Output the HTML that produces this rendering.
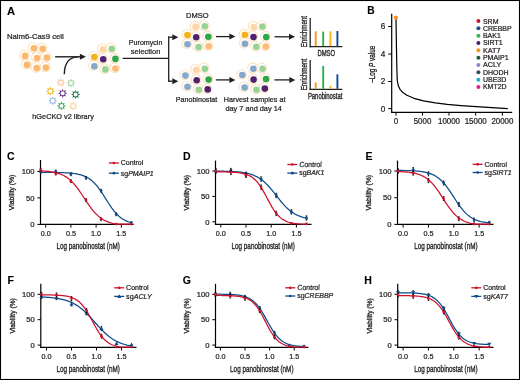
<!DOCTYPE html>
<html><head><meta charset="utf-8"><style>
html,body{margin:0;padding:0;background:#fff;width:520px;height:380px;overflow:hidden;}
svg{display:block;will-change:transform;}
text{font-family:"Liberation Sans", sans-serif;fill:#231f20;stroke:#231f20;stroke-width:0.24px;}
text.c{stroke-width:0.34px;}
text.b{fill:#000;stroke:#000;stroke-width:0.1px;}
</style></head><body>
<svg width="520" height="380" viewBox="0 0 520 380">
<rect x="0.5" y="0.5" width="519" height="379" fill="#fff" stroke="#000" stroke-width="1.1"/>
<text x="6.90" y="14.70" font-size="11.20" font-weight="bold" fill="#000" class="b" >A</text>
<text x="6.90" y="39.30" font-size="8.00" textLength="56.90" lengthAdjust="spacingAndGlyphs" >Nalm6-Cas9 cell</text>
<circle cx="33.20" cy="47.60" r="4.85" fill="#fff" stroke="#fde2c3" stroke-width="1.1"/>
<circle cx="41.90" cy="48.10" r="4.85" fill="#fff" stroke="#fde2c3" stroke-width="1.1"/>
<circle cx="24.40" cy="55.20" r="4.85" fill="#fff" stroke="#fde2c3" stroke-width="1.1"/>
<circle cx="36.40" cy="57.30" r="4.85" fill="#fff" stroke="#fde2c3" stroke-width="1.1"/>
<circle cx="46.10" cy="56.80" r="4.85" fill="#fff" stroke="#fde2c3" stroke-width="1.1"/>
<circle cx="26.30" cy="64.20" r="4.85" fill="#fff" stroke="#fde2c3" stroke-width="1.1"/>
<circle cx="36.00" cy="67.40" r="4.85" fill="#fff" stroke="#fde2c3" stroke-width="1.1"/>
<circle cx="45.20" cy="66.90" r="4.85" fill="#fff" stroke="#fde2c3" stroke-width="1.1"/>
<circle cx="33.90" cy="48.30" r="3.30" fill="#fab96f"/>
<circle cx="42.60" cy="48.80" r="3.30" fill="#fab96f"/>
<circle cx="25.10" cy="55.90" r="3.30" fill="#fab96f"/>
<circle cx="37.10" cy="58.00" r="3.30" fill="#fab96f"/>
<circle cx="46.80" cy="57.50" r="3.30" fill="#fab96f"/>
<circle cx="27.00" cy="64.90" r="3.30" fill="#fab96f"/>
<circle cx="36.70" cy="68.10" r="3.30" fill="#fab96f"/>
<circle cx="45.90" cy="67.60" r="3.30" fill="#fab96f"/>
<line x1="55.10" y1="56.80" x2="80.40" y2="56.80" stroke="#231f20" stroke-width="1.4" />
<polygon points="79.90,53.80 85.90,56.80 79.90,59.80" fill="#231f20"/>
<path d="M64.3,74.3 Q64.6,57.2 78,56.9" fill="none" stroke="#231f20" stroke-width="1.4"/>
<polygon points="60.90,78.00 61.89,80.20 64.15,79.35 63.30,81.61 65.50,82.60 63.30,83.59 64.15,85.85 61.89,85.00 60.90,87.20 59.91,85.00 57.65,85.85 58.50,83.59 56.30,82.60 58.50,81.61 57.65,79.35 59.91,80.20" fill="#fcc8a2"/>
<circle cx="60.90" cy="82.60" r="1.95" fill="#fff"/>
<polygon points="71.00,78.50 71.99,80.70 74.25,79.85 73.40,82.11 75.60,83.10 73.40,84.09 74.25,86.35 71.99,85.50 71.00,87.70 70.01,85.50 67.75,86.35 68.60,84.09 66.40,83.10 68.60,82.11 67.75,79.85 70.01,80.70" fill="#a5d7a0"/>
<circle cx="71.00" cy="83.10" r="1.95" fill="#fff"/>
<polygon points="50.40,86.60 51.39,88.80 53.65,87.95 52.80,90.21 55.00,91.20 52.80,92.19 53.65,94.45 51.39,93.60 50.40,95.80 49.41,93.60 47.15,94.45 48.00,92.19 45.80,91.20 48.00,90.21 47.15,87.95 49.41,88.80" fill="#f5b92e"/>
<circle cx="50.40" cy="91.20" r="1.95" fill="#fff"/>
<polygon points="62.70,88.70 63.69,90.90 65.95,90.05 65.10,92.31 67.30,93.30 65.10,94.29 65.95,96.55 63.69,95.70 62.70,97.90 61.71,95.70 59.45,96.55 60.30,94.29 58.10,93.30 60.30,92.31 59.45,90.05 61.71,90.90" fill="#67398a"/>
<circle cx="62.70" cy="93.30" r="1.95" fill="#fff"/>
<polygon points="75.60,89.90 76.59,92.10 78.85,91.25 78.00,93.51 80.20,94.50 78.00,95.49 78.85,97.75 76.59,96.90 75.60,99.10 74.61,96.90 72.35,97.75 73.20,95.49 71.00,94.50 73.20,93.51 72.35,91.25 74.61,92.10" fill="#22735a"/>
<circle cx="75.60" cy="94.50" r="1.95" fill="#fff"/>
<polygon points="52.80,96.20 53.79,98.40 56.05,97.55 55.20,99.81 57.40,100.80 55.20,101.79 56.05,104.05 53.79,103.20 52.80,105.40 51.81,103.20 49.55,104.05 50.40,101.79 48.20,100.80 50.40,99.81 49.55,97.55 51.81,98.40" fill="#a0badb"/>
<circle cx="52.80" cy="100.80" r="1.95" fill="#fff"/>
<polygon points="61.50,101.30 62.49,103.50 64.75,102.65 63.90,104.91 66.10,105.90 63.90,106.89 64.75,109.15 62.49,108.30 61.50,110.50 60.51,108.30 58.25,109.15 59.10,106.89 56.90,105.90 59.10,104.91 58.25,102.65 60.51,103.50" fill="#44ab5c"/>
<circle cx="61.50" cy="105.90" r="1.95" fill="#fff"/>
<polygon points="73.20,101.50 74.19,103.70 76.45,102.85 75.60,105.11 77.80,106.10 75.60,107.09 76.45,109.35 74.19,108.50 73.20,110.70 72.21,108.50 69.95,109.35 70.80,107.09 68.60,106.10 70.80,105.11 69.95,102.85 72.21,103.70" fill="#fbd993"/>
<circle cx="73.20" cy="106.10" r="1.95" fill="#fff"/>
<text x="32.30" y="119.20" font-size="7.90" textLength="61.50" lengthAdjust="spacingAndGlyphs" >hGeCKO v2 library</text>
<circle cx="102.30" cy="48.50" r="4.85" fill="#fff" stroke="#fde2c3" stroke-width="1.1"/>
<circle cx="111.00" cy="48.00" r="4.85" fill="#fff" stroke="#fde2c3" stroke-width="1.1"/>
<circle cx="93.60" cy="56.30" r="4.85" fill="#fff" stroke="#fde2c3" stroke-width="1.1"/>
<circle cx="102.50" cy="58.60" r="4.85" fill="#fff" stroke="#fde2c3" stroke-width="1.1"/>
<circle cx="114.70" cy="58.20" r="4.85" fill="#fff" stroke="#fde2c3" stroke-width="1.1"/>
<circle cx="93.60" cy="65.50" r="4.85" fill="#fff" stroke="#fde2c3" stroke-width="1.1"/>
<circle cx="104.60" cy="68.70" r="4.85" fill="#fff" stroke="#fde2c3" stroke-width="1.1"/>
<circle cx="114.70" cy="67.80" r="4.85" fill="#fff" stroke="#fde2c3" stroke-width="1.1"/>
<circle cx="103.00" cy="49.20" r="3.30" fill="#fdd6a6"/>
<circle cx="111.70" cy="48.70" r="3.30" fill="#97d493"/>
<circle cx="94.30" cy="57.00" r="3.30" fill="#f5b21a"/>
<circle cx="103.20" cy="59.30" r="3.30" fill="#53226f"/>
<circle cx="115.40" cy="58.90" r="3.30" fill="#2fa64a"/>
<circle cx="94.30" cy="66.20" r="3.30" fill="#84a8cb"/>
<circle cx="105.30" cy="69.40" r="3.30" fill="#97d493"/>
<circle cx="115.40" cy="68.50" r="3.30" fill="#fdbb78"/>
<line x1="122.60" y1="58.40" x2="168.70" y2="58.40" stroke="#231f20" stroke-width="1.3" />
<line x1="168.70" y1="36.60" x2="168.70" y2="81.80" stroke="#231f20" stroke-width="1.3" />
<line x1="168.05" y1="37.20" x2="172.80" y2="37.20" stroke="#231f20" stroke-width="1.3" />
<polygon points="172.30,34.20 178.30,37.20 172.30,40.20" fill="#231f20"/>
<line x1="168.05" y1="81.20" x2="172.80" y2="81.20" stroke="#231f20" stroke-width="1.3" />
<polygon points="172.30,78.20 178.30,81.20 172.30,84.20" fill="#231f20"/>
<text x="145.60" y="45.40" font-size="7.70" text-anchor="middle" textLength="33.50" lengthAdjust="spacingAndGlyphs" >Puromycin</text>
<text x="145.60" y="54.40" font-size="7.70" text-anchor="middle" textLength="29.50" lengthAdjust="spacingAndGlyphs" >selection</text>
<text x="186.00" y="18.30" font-size="8.00" textLength="22.50" lengthAdjust="spacingAndGlyphs" >DMSO</text>
<circle cx="194.90" cy="26.20" r="4.85" fill="#fff" stroke="#fde2c3" stroke-width="1.1"/>
<circle cx="204.10" cy="25.60" r="4.85" fill="#fff" stroke="#fde2c3" stroke-width="1.1"/>
<circle cx="186.80" cy="34.30" r="4.85" fill="#fff" stroke="#fde2c3" stroke-width="1.1"/>
<circle cx="195.50" cy="36.60" r="4.85" fill="#fff" stroke="#fde2c3" stroke-width="1.1"/>
<circle cx="207.60" cy="36.00" r="4.85" fill="#fff" stroke="#fde2c3" stroke-width="1.1"/>
<circle cx="186.80" cy="43.50" r="4.85" fill="#fff" stroke="#fde2c3" stroke-width="1.1"/>
<circle cx="197.80" cy="46.40" r="4.85" fill="#fff" stroke="#fde2c3" stroke-width="1.1"/>
<circle cx="207.90" cy="45.60" r="4.85" fill="#fff" stroke="#fde2c3" stroke-width="1.1"/>
<circle cx="195.60" cy="26.90" r="3.30" fill="#fdd6a6"/>
<circle cx="204.80" cy="26.30" r="3.30" fill="#97d493"/>
<circle cx="187.50" cy="35.00" r="3.30" fill="#f5b21a"/>
<circle cx="196.20" cy="37.30" r="3.30" fill="#53226f"/>
<circle cx="208.30" cy="36.70" r="3.30" fill="#2fa64a"/>
<circle cx="187.50" cy="44.20" r="3.30" fill="#84a8cb"/>
<circle cx="198.50" cy="47.10" r="3.30" fill="#97d493"/>
<circle cx="208.60" cy="46.30" r="3.30" fill="#fdbb78"/>
<line x1="216.00" y1="36.60" x2="229.90" y2="36.60" stroke="#231f20" stroke-width="1.3" />
<polygon points="229.40,33.60 235.40,36.60 229.40,39.60" fill="#231f20"/>
<circle cx="253.10" cy="26.30" r="4.85" fill="#fff" stroke="#fde2c3" stroke-width="1.1"/>
<circle cx="261.60" cy="25.80" r="4.85" fill="#fff" stroke="#fde2c3" stroke-width="1.1"/>
<circle cx="244.20" cy="34.00" r="4.85" fill="#fff" stroke="#fde2c3" stroke-width="1.1"/>
<circle cx="252.80" cy="36.30" r="4.85" fill="#fff" stroke="#fde2c3" stroke-width="1.1"/>
<circle cx="265.50" cy="36.30" r="4.85" fill="#fff" stroke="#fde2c3" stroke-width="1.1"/>
<circle cx="244.20" cy="43.10" r="4.85" fill="#fff" stroke="#fde2c3" stroke-width="1.1"/>
<circle cx="255.50" cy="46.10" r="4.85" fill="#fff" stroke="#fde2c3" stroke-width="1.1"/>
<circle cx="265.10" cy="45.80" r="4.85" fill="#fff" stroke="#fde2c3" stroke-width="1.1"/>
<circle cx="253.80" cy="27.00" r="3.30" fill="#fdd6a6"/>
<circle cx="262.30" cy="26.50" r="3.30" fill="#97d493"/>
<circle cx="244.90" cy="34.70" r="3.30" fill="#f5b21a"/>
<circle cx="253.50" cy="37.00" r="3.30" fill="#53226f"/>
<circle cx="266.20" cy="37.00" r="3.30" fill="#2fa64a"/>
<circle cx="244.90" cy="43.80" r="3.30" fill="#84a8cb"/>
<circle cx="256.20" cy="46.80" r="3.30" fill="#97d493"/>
<circle cx="265.80" cy="46.50" r="3.30" fill="#fdbb78"/>
<line x1="274.50" y1="36.80" x2="289.50" y2="36.80" stroke="#231f20" stroke-width="1.3" />
<polygon points="289.00,33.80 295.00,36.80 289.00,39.80" fill="#231f20"/>
<circle cx="195.50" cy="69.10" r="4.85" fill="#fff" stroke="#fde2c3" stroke-width="1.1"/>
<circle cx="204.10" cy="68.00" r="4.85" fill="#fff" stroke="#fde2c3" stroke-width="1.1"/>
<circle cx="184.70" cy="74.90" r="4.85" fill="#fff" stroke="#fde2c3" stroke-width="1.1"/>
<circle cx="196.00" cy="79.50" r="4.85" fill="#fff" stroke="#fde2c3" stroke-width="1.1"/>
<circle cx="207.90" cy="78.90" r="4.85" fill="#fff" stroke="#fde2c3" stroke-width="1.1"/>
<circle cx="186.80" cy="86.10" r="4.85" fill="#fff" stroke="#fde2c3" stroke-width="1.1"/>
<circle cx="198.00" cy="89.10" r="4.85" fill="#fff" stroke="#fde2c3" stroke-width="1.1"/>
<circle cx="207.00" cy="88.70" r="4.85" fill="#fff" stroke="#fde2c3" stroke-width="1.1"/>
<circle cx="196.20" cy="69.80" r="3.30" fill="#fdd6a6"/>
<circle cx="204.80" cy="68.70" r="3.30" fill="#97d493"/>
<circle cx="185.40" cy="75.60" r="3.30" fill="#84a8cb"/>
<circle cx="196.70" cy="80.20" r="3.30" fill="#53226f"/>
<circle cx="208.60" cy="79.60" r="3.30" fill="#2fa64a"/>
<circle cx="187.50" cy="86.80" r="3.30" fill="#84a8cb"/>
<circle cx="198.70" cy="89.80" r="3.30" fill="#97d493"/>
<circle cx="207.70" cy="89.40" r="3.30" fill="#53226f"/>
<line x1="215.80" y1="79.90" x2="229.90" y2="79.90" stroke="#231f20" stroke-width="1.3" />
<polygon points="229.40,76.90 235.40,79.90 229.40,82.90" fill="#231f20"/>
<circle cx="252.60" cy="68.00" r="4.85" fill="#fff" stroke="#fde2c3" stroke-width="1.1"/>
<circle cx="261.80" cy="68.00" r="4.85" fill="#fff" stroke="#fde2c3" stroke-width="1.1"/>
<circle cx="241.60" cy="74.30" r="4.85" fill="#fff" stroke="#fde2c3" stroke-width="1.1"/>
<circle cx="252.90" cy="78.90" r="4.85" fill="#fff" stroke="#fde2c3" stroke-width="1.1"/>
<circle cx="265.30" cy="78.30" r="4.85" fill="#fff" stroke="#fde2c3" stroke-width="1.1"/>
<circle cx="243.90" cy="86.80" r="4.85" fill="#fff" stroke="#fde2c3" stroke-width="1.1"/>
<circle cx="255.70" cy="89.10" r="4.85" fill="#fff" stroke="#fde2c3" stroke-width="1.1"/>
<circle cx="264.10" cy="87.90" r="4.85" fill="#fff" stroke="#fde2c3" stroke-width="1.1"/>
<circle cx="253.30" cy="68.70" r="3.30" fill="#84a8cb"/>
<circle cx="262.50" cy="68.70" r="3.30" fill="#97d493"/>
<circle cx="242.30" cy="75.00" r="3.30" fill="#84a8cb"/>
<circle cx="253.60" cy="79.60" r="3.30" fill="#53226f"/>
<circle cx="266.00" cy="79.00" r="3.30" fill="#2fa64a"/>
<circle cx="244.60" cy="87.50" r="3.30" fill="#84a8cb"/>
<circle cx="256.40" cy="89.80" r="3.30" fill="#97d493"/>
<circle cx="264.80" cy="88.60" r="3.30" fill="#53226f"/>
<line x1="274.40" y1="79.90" x2="289.80" y2="79.90" stroke="#231f20" stroke-width="1.3" />
<polygon points="289.30,76.90 295.30,79.90 289.30,82.90" fill="#231f20"/>
<text x="175.80" y="101.90" font-size="7.60" textLength="41.50" lengthAdjust="spacingAndGlyphs" >Panobinostat</text>
<text x="223.80" y="101.90" font-size="7.60" textLength="61.60" lengthAdjust="spacingAndGlyphs" >Harvest samples at</text>
<text x="225.40" y="110.60" font-size="7.60" textLength="56.50" lengthAdjust="spacingAndGlyphs" >day 7 and day 14</text>
<line x1="310.20" y1="17.90" x2="310.20" y2="47.30" stroke="#222" stroke-width="1.3" />
<line x1="309.60" y1="46.70" x2="342.40" y2="46.70" stroke="#222" stroke-width="1.3" />
<rect x="314.75" y="31.30" width="1.9" height="14.80" fill="#f7941d"/>
<rect x="322.25" y="31.60" width="1.9" height="14.50" fill="#2eb04a"/>
<rect x="329.45" y="31.30" width="1.9" height="14.80" fill="#fdb913"/>
<rect x="336.45" y="31.00" width="1.9" height="15.10" fill="#0f4c94"/>
<text x="317.50" y="56.30" font-size="8.60" textLength="17.60" lengthAdjust="spacingAndGlyphs" class="c" >DMSO</text>
<text x="306.60" y="31.65" font-size="8.80" text-anchor="middle" textLength="31.30" lengthAdjust="spacingAndGlyphs" class="c" transform="rotate(-90 306.60 31.65)">Enrichment</text>
<line x1="310.20" y1="60.10" x2="310.20" y2="90.00" stroke="#222" stroke-width="1.3" />
<line x1="309.60" y1="89.40" x2="342.40" y2="89.40" stroke="#222" stroke-width="1.3" />
<rect x="314.75" y="82.50" width="1.9" height="6.30" fill="#f7941d"/>
<rect x="322.25" y="65.90" width="1.9" height="22.90" fill="#2eb04a"/>
<rect x="329.45" y="85.80" width="1.9" height="3.00" fill="#fdb913"/>
<rect x="336.45" y="74.30" width="1.9" height="14.50" fill="#0f4c94"/>
<text x="307.90" y="98.50" font-size="8.60" textLength="34.50" lengthAdjust="spacingAndGlyphs" class="c" >Panobinostat</text>
<text x="306.60" y="74.55" font-size="8.80" text-anchor="middle" textLength="31.50" lengthAdjust="spacingAndGlyphs" class="c" transform="rotate(-90 306.60 74.55)">Enrichment</text>
<text x="367.20" y="13.90" font-size="10.20" font-weight="bold" fill="#000" class="b" >B</text>
<line x1="391.70" y1="13.80" x2="391.70" y2="112.90" stroke="#000" stroke-width="1.2" />
<line x1="391.10" y1="112.30" x2="512.20" y2="112.30" stroke="#000" stroke-width="1.2" />
<line x1="388.20" y1="108.60" x2="391.70" y2="108.60" stroke="#000" stroke-width="1.0" />
<text x="385.40" y="111.50" font-size="8.20" text-anchor="end" >0</text>
<line x1="388.20" y1="81.50" x2="391.70" y2="81.50" stroke="#000" stroke-width="1.0" />
<text x="385.40" y="84.40" font-size="8.20" text-anchor="end" >2</text>
<line x1="388.20" y1="54.00" x2="391.70" y2="54.00" stroke="#000" stroke-width="1.0" />
<text x="385.40" y="56.90" font-size="8.20" text-anchor="end" >4</text>
<line x1="388.20" y1="26.50" x2="391.70" y2="26.50" stroke="#000" stroke-width="1.0" />
<text x="385.40" y="29.40" font-size="8.20" text-anchor="end" >6</text>
<line x1="396.00" y1="112.30" x2="396.00" y2="115.60" stroke="#000" stroke-width="1.0" />
<text x="396.00" y="123.80" font-size="8.20" text-anchor="middle" textLength="4.40" lengthAdjust="spacingAndGlyphs" >0</text>
<line x1="422.50" y1="112.30" x2="422.50" y2="115.60" stroke="#000" stroke-width="1.0" />
<text x="422.50" y="123.80" font-size="8.20" text-anchor="middle" textLength="17.60" lengthAdjust="spacingAndGlyphs" >5000</text>
<line x1="449.00" y1="112.30" x2="449.00" y2="115.60" stroke="#000" stroke-width="1.0" />
<text x="449.00" y="123.80" font-size="8.20" text-anchor="middle" textLength="22.00" lengthAdjust="spacingAndGlyphs" >10000</text>
<line x1="475.70" y1="112.30" x2="475.70" y2="115.60" stroke="#000" stroke-width="1.0" />
<text x="475.70" y="123.80" font-size="8.20" text-anchor="middle" textLength="22.00" lengthAdjust="spacingAndGlyphs" >15000</text>
<line x1="502.40" y1="112.30" x2="502.40" y2="115.60" stroke="#000" stroke-width="1.0" />
<text x="502.40" y="123.80" font-size="8.20" text-anchor="middle" textLength="22.00" lengthAdjust="spacingAndGlyphs" >20000</text>
<text class="c" x="375.2" y="64.3" font-size="9" text-anchor="middle" textLength="37" lengthAdjust="spacingAndGlyphs" transform="rotate(-90 375.2 64.3)">–Log <tspan font-style="italic">P</tspan> value</text>
<path d="M396.00,18.50 L396.40,45.00 L396.90,70.00 L397.30,80.50 L398.30,85.80 L400.00,89.30 L402.20,91.90 L406.90,95.20 L414.00,98.30 L423.50,100.90 L435.30,102.90 L447.20,104.40 L461.00,105.60 L476.10,106.70 L492.00,107.70 L507.80,108.70" fill="none" stroke="#000" stroke-width="1.2" stroke-linejoin="round"/>
<circle cx="395.9" cy="17.7" r="2.1" fill="#f7941d"/>
<circle cx="478.4" cy="21.00" r="2.0" fill="#c8102e"/>
<text x="482.90" y="23.50" font-size="7.50" textLength="15.58" lengthAdjust="spacingAndGlyphs" >SRM</text>
<circle cx="478.4" cy="28.33" r="2.0" fill="#1b4f8c"/>
<text x="482.90" y="30.83" font-size="7.50" textLength="28.84" lengthAdjust="spacingAndGlyphs" >CREBBP</text>
<circle cx="478.4" cy="35.66" r="2.0" fill="#3bb44a"/>
<text x="482.90" y="38.16" font-size="7.50" textLength="17.93" lengthAdjust="spacingAndGlyphs" >BAK1</text>
<circle cx="478.4" cy="42.99" r="2.0" fill="#4b1c6e"/>
<text x="482.90" y="45.49" font-size="7.50" textLength="19.87" lengthAdjust="spacingAndGlyphs" >SIRT1</text>
<circle cx="478.4" cy="50.32" r="2.0" fill="#f7941d"/>
<text x="482.90" y="52.82" font-size="7.50" textLength="17.54" lengthAdjust="spacingAndGlyphs" >KAT7</text>
<circle cx="478.4" cy="57.65" r="2.0" fill="#1a5e45"/>
<text x="482.90" y="60.15" font-size="7.50" textLength="25.72" lengthAdjust="spacingAndGlyphs" >PMAIP1</text>
<circle cx="478.4" cy="64.98" r="2.0" fill="#8c88d0"/>
<text x="482.90" y="67.48" font-size="7.50" textLength="18.32" lengthAdjust="spacingAndGlyphs" >ACLY</text>
<circle cx="478.4" cy="72.31" r="2.0" fill="#3b4866"/>
<text x="482.90" y="74.81" font-size="7.50" textLength="25.71" lengthAdjust="spacingAndGlyphs" >DHODH</text>
<circle cx="478.4" cy="79.64" r="2.0" fill="#29abe2"/>
<text x="482.90" y="82.14" font-size="7.50" textLength="23.38" lengthAdjust="spacingAndGlyphs" >UBE3D</text>
<circle cx="478.4" cy="86.97" r="2.0" fill="#e6198a"/>
<text x="482.90" y="89.47" font-size="7.50" textLength="23.77" lengthAdjust="spacingAndGlyphs" >KMT2D</text>
<text x="7.00" y="160.20" font-size="10.50" font-weight="bold" fill="#000" class="b" >C</text>
<line x1="40.50" y1="160.00" x2="40.50" y2="225.00" stroke="#000" stroke-width="1.2" />
<line x1="39.90" y1="224.40" x2="133.70" y2="224.40" stroke="#000" stroke-width="1.2" />
<line x1="37.30" y1="171.40" x2="40.50" y2="171.40" stroke="#000" stroke-width="1.0" />
<text x="34.50" y="174.10" font-size="7.80" text-anchor="end" textLength="12.75" lengthAdjust="spacingAndGlyphs" >100</text>
<line x1="37.30" y1="197.90" x2="40.50" y2="197.90" stroke="#000" stroke-width="1.0" />
<text x="34.50" y="200.60" font-size="7.80" text-anchor="end" textLength="8.50" lengthAdjust="spacingAndGlyphs" >50</text>
<line x1="37.30" y1="224.40" x2="40.50" y2="224.40" stroke="#000" stroke-width="1.0" />
<text x="34.50" y="227.10" font-size="7.80" text-anchor="end" textLength="4.25" lengthAdjust="spacingAndGlyphs" >0</text>
<line x1="45.70" y1="224.40" x2="45.70" y2="227.60" stroke="#000" stroke-width="1.0" />
<text x="45.70" y="236.00" font-size="7.80" text-anchor="middle" textLength="10.00" lengthAdjust="spacingAndGlyphs" >0.0</text>
<line x1="70.90" y1="224.40" x2="70.90" y2="227.60" stroke="#000" stroke-width="1.0" />
<text x="70.90" y="236.00" font-size="7.80" text-anchor="middle" textLength="10.00" lengthAdjust="spacingAndGlyphs" >0.5</text>
<line x1="96.10" y1="224.40" x2="96.10" y2="227.60" stroke="#000" stroke-width="1.0" />
<text x="96.10" y="236.00" font-size="7.80" text-anchor="middle" textLength="10.00" lengthAdjust="spacingAndGlyphs" >1.0</text>
<line x1="121.30" y1="224.40" x2="121.30" y2="227.60" stroke="#000" stroke-width="1.0" />
<text x="121.30" y="236.00" font-size="7.80" text-anchor="middle" textLength="10.00" lengthAdjust="spacingAndGlyphs" >1.5</text>
<text x="56.40" y="248.80" font-size="9.20" textLength="63.40" lengthAdjust="spacingAndGlyphs" class="c" >Log panobinostat (nM)</text>
<text class="c" x="14.40" y="192.50" font-size="8.0" text-anchor="middle" textLength="35.4" lengthAdjust="spacingAndGlyphs" transform="rotate(-90 14.40 192.50)">Viability (%)</text>
<path d="M40.66,172.41 L41.81,172.41 L42.96,172.42 L44.11,172.42 L45.25,172.43 L46.40,172.43 L47.55,172.44 L48.70,172.44 L49.85,172.45 L51.00,172.46 L52.14,172.47 L53.29,172.48 L54.44,172.50 L55.59,172.51 L56.74,172.53 L57.89,172.55 L59.03,172.58 L60.18,172.60 L61.33,172.64 L62.48,172.67 L63.63,172.71 L64.78,172.76 L65.92,172.82 L67.07,172.88 L68.22,172.95 L69.37,173.03 L70.52,173.13 L71.67,173.23 L72.81,173.36 L73.96,173.50 L75.11,173.66 L76.26,173.84 L77.41,174.05 L78.56,174.29 L79.70,174.57 L80.85,174.87 L82.00,175.22 L83.15,175.62 L84.30,176.07 L85.45,176.57 L86.59,177.14 L87.74,177.78 L88.89,178.49 L90.04,179.28 L91.19,180.16 L92.34,181.12 L93.48,182.18 L94.63,183.34 L95.78,184.59 L96.93,185.94 L98.08,187.39 L99.23,188.92 L100.37,190.54 L101.52,192.22 L102.67,193.96 L103.82,195.75 L104.97,197.57 L106.12,199.39 L107.26,201.21 L108.41,203.01 L109.56,204.76 L110.71,206.46 L111.86,208.09 L113.01,209.63 L114.15,211.10 L115.30,212.47 L116.45,213.74 L117.60,214.91 L118.75,215.99 L119.90,216.98 L121.04,217.87 L122.19,218.68 L123.34,219.40 L124.49,220.05 L125.64,220.63 L126.79,221.15 L127.93,221.61 L129.08,222.01 L130.23,222.37 L131.38,222.69" fill="none" stroke="#0e4c8c" stroke-width="1.25" stroke-linejoin="round"/>
<path d="M40.66,170.53 V173.33 M39.86,170.53 H41.46 M39.86,173.33 H41.46" stroke="#000" stroke-width="0.8" fill="none"/>
<circle cx="40.66" cy="171.93" r="1.35" fill="#0e4c8c"/>
<path d="M55.78,170.00 V172.80 M54.98,170.00 H56.58 M54.98,172.80 H56.58" stroke="#000" stroke-width="0.8" fill="none"/>
<circle cx="55.78" cy="171.40" r="1.35" fill="#0e4c8c"/>
<path d="M70.90,172.86 V175.66 M70.10,172.86 H71.70 M70.10,175.66 H71.70" stroke="#000" stroke-width="0.8" fill="none"/>
<circle cx="70.90" cy="174.26" r="1.35" fill="#0e4c8c"/>
<path d="M86.02,176.47 V179.27 M85.22,176.47 H86.82 M85.22,179.27 H86.82" stroke="#000" stroke-width="0.8" fill="none"/>
<circle cx="86.02" cy="177.87" r="1.35" fill="#0e4c8c"/>
<path d="M101.14,189.34 V192.15 M100.34,189.34 H101.94 M100.34,192.15 H101.94" stroke="#000" stroke-width="0.8" fill="none"/>
<circle cx="101.14" cy="190.75" r="1.35" fill="#0e4c8c"/>
<path d="M116.26,212.93 V215.73 M115.46,212.93 H117.06 M115.46,215.73 H117.06" stroke="#000" stroke-width="0.8" fill="none"/>
<circle cx="116.26" cy="214.33" r="1.35" fill="#0e4c8c"/>
<circle cx="131.38" cy="222.28" r="1.35" fill="#0e4c8c"/>
<path d="M40.66,170.83 L41.81,170.89 L42.96,170.96 L44.11,171.04 L45.25,171.12 L46.40,171.22 L47.55,171.33 L48.70,171.45 L49.85,171.60 L51.00,171.76 L52.14,171.93 L53.29,172.14 L54.44,172.37 L55.59,172.62 L56.74,172.91 L57.89,173.24 L59.03,173.60 L60.18,174.01 L61.33,174.46 L62.48,174.97 L63.63,175.54 L64.78,176.16 L65.92,176.85 L67.07,177.62 L68.22,178.46 L69.37,179.37 L70.52,180.37 L71.67,181.46 L72.81,182.63 L73.96,183.89 L75.11,185.23 L76.26,186.65 L77.41,188.15 L78.56,189.72 L79.70,191.34 L80.85,193.02 L82.00,194.74 L83.15,196.49 L84.30,198.24 L85.45,200.00 L86.59,201.73 L87.74,203.44 L88.89,205.11 L90.04,206.72 L91.19,208.26 L92.34,209.74 L93.48,211.14 L94.63,212.45 L95.78,213.68 L96.93,214.82 L98.08,215.88 L99.23,216.86 L100.37,217.75 L101.52,218.56 L102.67,219.30 L103.82,219.97 L104.97,220.58 L106.12,221.13 L107.26,221.62 L108.41,222.06 L109.56,222.45 L110.71,222.80 L111.86,223.11 L113.01,223.39 L114.15,223.64 L115.30,223.86 L116.45,224.05 L117.60,224.10 L118.75,224.10 L119.90,224.10 L121.04,224.10 L122.19,224.10 L123.34,224.10 L124.49,224.10 L125.64,224.10 L126.79,224.10 L127.93,224.10 L129.08,224.10 L130.23,224.10 L131.38,224.10" fill="none" stroke="#d0112b" stroke-width="1.25" stroke-linejoin="round"/>
<path d="M40.66,168.41 V171.21 M39.86,168.41 H41.46 M39.86,171.21 H41.46" stroke="#000" stroke-width="0.8" fill="none"/>
<circle cx="40.66" cy="169.81" r="1.35" fill="#d0112b"/>
<path d="M55.78,172.23 V175.03 M54.98,172.23 H56.58 M54.98,175.03 H56.58" stroke="#000" stroke-width="0.8" fill="none"/>
<circle cx="55.78" cy="173.63" r="1.35" fill="#d0112b"/>
<path d="M70.90,179.75 V182.55 M70.10,179.75 H71.70 M70.10,182.55 H71.70" stroke="#000" stroke-width="0.8" fill="none"/>
<circle cx="70.90" cy="181.15" r="1.35" fill="#d0112b"/>
<path d="M86.02,198.62 V201.42 M85.22,198.62 H86.82 M85.22,201.42 H86.82" stroke="#000" stroke-width="0.8" fill="none"/>
<circle cx="86.02" cy="200.02" r="1.35" fill="#d0112b"/>
<path d="M101.14,217.86 V220.66 M100.34,217.86 H101.94 M100.34,220.66 H101.94" stroke="#000" stroke-width="0.8" fill="none"/>
<circle cx="101.14" cy="219.26" r="1.35" fill="#d0112b"/>
<circle cx="116.26" cy="224.10" r="1.35" fill="#d0112b"/>
<circle cx="131.38" cy="224.10" r="1.35" fill="#d0112b"/>
<line x1="108.90" y1="163.00" x2="118.90" y2="163.00" stroke="#d0112b" stroke-width="1.3" />
<circle cx="113.90" cy="163.00" r="1.35" fill="#d0112b"/>
<line x1="108.90" y1="173.20" x2="118.90" y2="173.20" stroke="#0e4c8c" stroke-width="1.3" />
<circle cx="113.90" cy="173.20" r="1.35" fill="#0e4c8c"/>
<text x="120.80" y="165.30" font-size="7.5" textLength="22.48" lengthAdjust="spacingAndGlyphs">Control</text>
<text x="120.80" y="175.50" font-size="7.5" textLength="32.95" lengthAdjust="spacingAndGlyphs">sg<tspan font-style="italic">PMAIP1</tspan></text>
<text x="183.00" y="160.20" font-size="10.50" font-weight="bold" fill="#000" class="b" >D</text>
<line x1="215.50" y1="160.60" x2="215.50" y2="224.90" stroke="#000" stroke-width="1.2" />
<line x1="214.90" y1="224.30" x2="311.50" y2="224.30" stroke="#000" stroke-width="1.2" />
<line x1="212.30" y1="171.00" x2="215.50" y2="171.00" stroke="#000" stroke-width="1.0" />
<text x="209.50" y="173.70" font-size="7.80" text-anchor="end" textLength="12.75" lengthAdjust="spacingAndGlyphs" >100</text>
<line x1="212.30" y1="196.40" x2="215.50" y2="196.40" stroke="#000" stroke-width="1.0" />
<text x="209.50" y="199.10" font-size="7.80" text-anchor="end" textLength="8.50" lengthAdjust="spacingAndGlyphs" >50</text>
<line x1="212.30" y1="221.80" x2="215.50" y2="221.80" stroke="#000" stroke-width="1.0" />
<text x="209.50" y="224.50" font-size="7.80" text-anchor="end" textLength="4.25" lengthAdjust="spacingAndGlyphs" >0</text>
<line x1="220.80" y1="224.30" x2="220.80" y2="227.50" stroke="#000" stroke-width="1.0" />
<text x="220.80" y="235.90" font-size="7.80" text-anchor="middle" textLength="10.00" lengthAdjust="spacingAndGlyphs" >0.0</text>
<line x1="246.00" y1="224.30" x2="246.00" y2="227.50" stroke="#000" stroke-width="1.0" />
<text x="246.00" y="235.90" font-size="7.80" text-anchor="middle" textLength="10.00" lengthAdjust="spacingAndGlyphs" >0.5</text>
<line x1="271.20" y1="224.30" x2="271.20" y2="227.50" stroke="#000" stroke-width="1.0" />
<text x="271.20" y="235.90" font-size="7.80" text-anchor="middle" textLength="10.00" lengthAdjust="spacingAndGlyphs" >1.0</text>
<line x1="296.40" y1="224.30" x2="296.40" y2="227.50" stroke="#000" stroke-width="1.0" />
<text x="296.40" y="235.90" font-size="7.80" text-anchor="middle" textLength="10.00" lengthAdjust="spacingAndGlyphs" >1.5</text>
<text x="231.50" y="248.70" font-size="9.20" textLength="63.40" lengthAdjust="spacingAndGlyphs" class="c" >Log panobinostat (nM)</text>
<text class="c" x="189.40" y="192.75" font-size="8.0" text-anchor="middle" textLength="35.4" lengthAdjust="spacingAndGlyphs" transform="rotate(-90 189.40 192.75)">Viability (%)</text>
<path d="M215.76,171.10 L216.91,171.12 L218.06,171.13 L219.21,171.14 L220.35,171.16 L221.50,171.18 L222.65,171.20 L223.80,171.22 L224.95,171.25 L226.10,171.28 L227.24,171.31 L228.39,171.35 L229.54,171.39 L230.69,171.44 L231.84,171.49 L232.99,171.55 L234.13,171.62 L235.28,171.70 L236.43,171.78 L237.58,171.88 L238.73,171.99 L239.88,172.11 L241.02,172.24 L242.17,172.39 L243.32,172.56 L244.47,172.75 L245.62,172.96 L246.77,173.20 L247.91,173.46 L249.06,173.75 L250.21,174.08 L251.36,174.44 L252.51,174.84 L253.66,175.28 L254.80,175.77 L255.95,176.31 L257.10,176.90 L258.25,177.55 L259.40,178.25 L260.55,179.02 L261.69,179.85 L262.84,180.75 L263.99,181.72 L265.14,182.75 L266.29,183.85 L267.44,185.01 L268.58,186.24 L269.73,187.52 L270.88,188.85 L272.03,190.23 L273.18,191.64 L274.33,193.08 L275.47,194.54 L276.62,196.00 L277.77,197.47 L278.92,198.92 L280.07,200.34 L281.22,201.74 L282.36,203.09 L283.51,204.40 L284.66,205.65 L285.81,206.84 L286.96,207.96 L288.11,209.03 L289.25,210.02 L290.40,210.95 L291.55,211.81 L292.70,212.61 L293.85,213.34 L295.00,214.01 L296.14,214.63 L297.29,215.19 L298.44,215.70 L299.59,216.16 L300.74,216.58 L301.89,216.96 L303.03,217.30 L304.18,217.61 L305.33,217.89 L306.48,218.13" fill="none" stroke="#0e4c8c" stroke-width="1.25" stroke-linejoin="round"/>
<path d="M215.76,168.80 V173.20 M214.96,168.80 H216.56 M214.96,173.20 H216.56" stroke="#000" stroke-width="0.8" fill="none"/>
<rect x="214.46" y="169.70" width="2.6" height="2.6" fill="#0e4c8c"/>
<path d="M230.88,168.39 V172.79 M230.08,168.39 H231.68 M230.08,172.79 H231.68" stroke="#000" stroke-width="0.8" fill="none"/>
<rect x="229.58" y="169.29" width="2.6" height="2.6" fill="#0e4c8c"/>
<path d="M246.00,172.20 V176.60 M245.20,172.20 H246.80 M245.20,176.60 H246.80" stroke="#000" stroke-width="0.8" fill="none"/>
<rect x="244.70" y="173.10" width="2.6" height="2.6" fill="#0e4c8c"/>
<path d="M261.12,176.78 V181.18 M260.32,176.78 H261.92 M260.32,181.18 H261.92" stroke="#000" stroke-width="0.8" fill="none"/>
<rect x="259.82" y="177.68" width="2.6" height="2.6" fill="#0e4c8c"/>
<path d="M276.24,193.29 V197.69 M275.44,193.29 H277.04 M275.44,197.69 H277.04" stroke="#000" stroke-width="0.8" fill="none"/>
<rect x="274.94" y="194.19" width="2.6" height="2.6" fill="#0e4c8c"/>
<path d="M291.36,209.69 V214.09 M290.56,209.69 H292.16 M290.56,214.09 H292.16" stroke="#000" stroke-width="0.8" fill="none"/>
<rect x="290.06" y="210.59" width="2.6" height="2.6" fill="#0e4c8c"/>
<path d="M306.48,215.79 V220.19 M305.68,215.79 H307.28 M305.68,220.19 H307.28" stroke="#000" stroke-width="0.8" fill="none"/>
<rect x="305.18" y="216.69" width="2.6" height="2.6" fill="#0e4c8c"/>
<path d="M215.76,171.88 L216.91,171.89 L218.06,171.89 L219.21,171.90 L220.35,171.91 L221.50,171.92 L222.65,171.94 L223.80,171.95 L224.95,171.97 L226.10,171.99 L227.24,172.02 L228.39,172.05 L229.54,172.09 L230.69,172.13 L231.84,172.18 L232.99,172.24 L234.13,172.30 L235.28,172.39 L236.43,172.48 L237.58,172.59 L238.73,172.72 L239.88,172.88 L241.02,173.06 L242.17,173.27 L243.32,173.52 L244.47,173.80 L245.62,174.14 L246.77,174.53 L247.91,174.98 L249.06,175.50 L250.21,176.11 L251.36,176.80 L252.51,177.59 L253.66,178.49 L254.80,179.51 L255.95,180.65 L257.10,181.93 L258.25,183.34 L259.40,184.89 L260.55,186.57 L261.69,188.38 L262.84,190.31 L263.99,192.33 L265.14,194.43 L266.29,196.58 L267.44,198.75 L268.58,200.91 L269.73,203.03 L270.88,205.09 L272.03,207.06 L273.18,208.93 L274.33,210.67 L275.47,212.29 L276.62,213.76 L277.77,215.10 L278.92,216.30 L280.07,217.38 L281.22,218.33 L282.36,219.17 L283.51,219.91 L284.66,220.55 L285.81,221.11 L286.96,221.59 L288.11,222.01 L289.25,222.37 L290.40,222.68 L291.55,222.94 L292.70,223.17 L293.85,223.36 L295.00,223.53 L296.14,223.67 L297.29,223.79 L298.44,223.89 L299.59,223.98 L300.74,224.00 L301.89,224.00 L303.03,224.00 L304.18,224.00 L305.33,224.00 L306.48,224.00" fill="none" stroke="#d0112b" stroke-width="1.25" stroke-linejoin="round"/>
<path d="M215.76,168.80 V173.20 M214.96,168.80 H216.56 M214.96,173.20 H216.56" stroke="#000" stroke-width="0.8" fill="none"/>
<circle cx="215.76" cy="171.00" r="1.35" fill="#d0112b"/>
<path d="M230.88,170.12 V174.52 M230.08,170.12 H231.68 M230.08,174.52 H231.68" stroke="#000" stroke-width="0.8" fill="none"/>
<circle cx="230.88" cy="172.32" r="1.35" fill="#d0112b"/>
<path d="M246.00,173.02 V177.42 M245.20,173.02 H246.80 M245.20,177.42 H246.80" stroke="#000" stroke-width="0.8" fill="none"/>
<circle cx="246.00" cy="175.22" r="1.35" fill="#d0112b"/>
<path d="M261.12,184.90 V189.30 M260.32,184.90 H261.92 M260.32,189.30 H261.92" stroke="#000" stroke-width="0.8" fill="none"/>
<circle cx="261.12" cy="187.10" r="1.35" fill="#d0112b"/>
<path d="M276.24,211.22 V215.62 M275.44,211.22 H277.04 M275.44,215.62 H277.04" stroke="#000" stroke-width="0.8" fill="none"/>
<circle cx="276.24" cy="213.42" r="1.35" fill="#d0112b"/>
<circle cx="291.36" cy="223.32" r="1.35" fill="#d0112b"/>
<circle cx="306.48" cy="223.83" r="1.35" fill="#d0112b"/>
<line x1="287.30" y1="164.50" x2="297.30" y2="164.50" stroke="#d0112b" stroke-width="1.3" />
<circle cx="292.30" cy="164.50" r="1.35" fill="#d0112b"/>
<line x1="287.30" y1="173.10" x2="297.30" y2="173.10" stroke="#0e4c8c" stroke-width="1.3" />
<rect x="291.00" y="171.80" width="2.6" height="2.6" fill="#0e4c8c"/>
<text x="299.20" y="166.80" font-size="7.5" transform="translate(299.20,166.80) skewX(-4) translate(-299.20,-166.80)" textLength="22.48" lengthAdjust="spacingAndGlyphs">Control</text>
<text x="299.20" y="175.40" font-size="7.5" textLength="25.20" lengthAdjust="spacingAndGlyphs">sg<tspan font-style="italic">BAK1</tspan></text>
<text x="365.40" y="160.20" font-size="10.50" font-weight="bold" fill="#000" class="b" >E</text>
<line x1="397.50" y1="160.60" x2="397.50" y2="225.00" stroke="#000" stroke-width="1.2" />
<line x1="396.90" y1="224.40" x2="493.50" y2="224.40" stroke="#000" stroke-width="1.2" />
<line x1="394.30" y1="171.00" x2="397.50" y2="171.00" stroke="#000" stroke-width="1.0" />
<text x="391.50" y="173.70" font-size="7.80" text-anchor="end" textLength="12.75" lengthAdjust="spacingAndGlyphs" >100</text>
<line x1="394.30" y1="197.70" x2="397.50" y2="197.70" stroke="#000" stroke-width="1.0" />
<text x="391.50" y="200.40" font-size="7.80" text-anchor="end" textLength="8.50" lengthAdjust="spacingAndGlyphs" >50</text>
<line x1="394.30" y1="224.40" x2="397.50" y2="224.40" stroke="#000" stroke-width="1.0" />
<text x="391.50" y="227.10" font-size="7.80" text-anchor="end" textLength="4.25" lengthAdjust="spacingAndGlyphs" >0</text>
<line x1="403.10" y1="224.40" x2="403.10" y2="227.60" stroke="#000" stroke-width="1.0" />
<text x="403.10" y="236.00" font-size="7.80" text-anchor="middle" textLength="10.00" lengthAdjust="spacingAndGlyphs" >0.0</text>
<line x1="428.45" y1="224.40" x2="428.45" y2="227.60" stroke="#000" stroke-width="1.0" />
<text x="428.45" y="236.00" font-size="7.80" text-anchor="middle" textLength="10.00" lengthAdjust="spacingAndGlyphs" >0.5</text>
<line x1="453.80" y1="224.40" x2="453.80" y2="227.60" stroke="#000" stroke-width="1.0" />
<text x="453.80" y="236.00" font-size="7.80" text-anchor="middle" textLength="10.00" lengthAdjust="spacingAndGlyphs" >1.0</text>
<line x1="479.15" y1="224.40" x2="479.15" y2="227.60" stroke="#000" stroke-width="1.0" />
<text x="479.15" y="236.00" font-size="7.80" text-anchor="middle" textLength="10.00" lengthAdjust="spacingAndGlyphs" >1.5</text>
<text x="414.20" y="248.80" font-size="9.20" textLength="63.40" lengthAdjust="spacingAndGlyphs" class="c" >Log panobinostat (nM)</text>
<text class="c" x="371.40" y="192.80" font-size="8.0" text-anchor="middle" textLength="35.4" lengthAdjust="spacingAndGlyphs" transform="rotate(-90 371.40 192.80)">Viability (%)</text>
<path d="M398.03,170.43 L399.19,170.45 L400.34,170.46 L401.50,170.47 L402.65,170.49 L403.81,170.51 L404.96,170.53 L406.12,170.56 L407.27,170.59 L408.43,170.62 L409.58,170.66 L410.74,170.70 L411.89,170.75 L413.05,170.81 L414.20,170.87 L415.36,170.95 L416.51,171.03 L417.67,171.13 L418.82,171.24 L419.98,171.37 L421.13,171.51 L422.29,171.67 L423.44,171.86 L424.60,172.07 L425.75,172.31 L426.91,172.58 L428.06,172.88 L429.22,173.23 L430.38,173.62 L431.53,174.06 L432.69,174.55 L433.84,175.11 L435.00,175.72 L436.15,176.41 L437.31,177.18 L438.46,178.02 L439.62,178.95 L440.77,179.97 L441.93,181.08 L443.08,182.29 L444.24,183.59 L445.39,184.98 L446.55,186.45 L447.70,188.01 L448.86,189.64 L450.01,191.33 L451.17,193.08 L452.32,194.85 L453.48,196.65 L454.63,198.44 L455.79,200.23 L456.94,201.99 L458.10,203.70 L459.26,205.35 L460.41,206.94 L461.57,208.45 L462.72,209.87 L463.88,211.20 L465.03,212.44 L466.19,213.59 L467.34,214.64 L468.50,215.61 L469.65,216.48 L470.81,217.28 L471.96,217.99 L473.12,218.64 L474.27,219.21 L475.43,219.73 L476.58,220.19 L477.74,220.60 L478.89,220.96 L480.05,221.28 L481.20,221.56 L482.36,221.81 L483.51,222.03 L484.67,222.23 L485.82,222.40 L486.98,222.55 L488.13,222.68 L489.29,222.80" fill="none" stroke="#0e4c8c" stroke-width="1.25" stroke-linejoin="round"/>
<path d="M398.03,169.00 V173.00 M397.23,169.00 H398.83 M397.23,173.00 H398.83" stroke="#000" stroke-width="0.8" fill="none"/>
<circle cx="398.03" cy="171.00" r="1.35" fill="#0e4c8c"/>
<path d="M413.24,167.50 V171.50 M412.44,167.50 H414.04 M412.44,171.50 H414.04" stroke="#000" stroke-width="0.8" fill="none"/>
<circle cx="413.24" cy="169.50" r="1.35" fill="#0e4c8c"/>
<path d="M428.45,171.83 V175.83 M427.65,171.83 H429.25 M427.65,175.83 H429.25" stroke="#000" stroke-width="0.8" fill="none"/>
<circle cx="428.45" cy="173.83" r="1.35" fill="#0e4c8c"/>
<path d="M443.66,180.96 V184.96 M442.86,180.96 H444.46 M442.86,184.96 H444.46" stroke="#000" stroke-width="0.8" fill="none"/>
<circle cx="443.66" cy="182.96" r="1.35" fill="#0e4c8c"/>
<path d="M458.87,202.38 V206.38 M458.07,202.38 H459.67 M458.07,206.38 H459.67" stroke="#000" stroke-width="0.8" fill="none"/>
<circle cx="458.87" cy="204.38" r="1.35" fill="#0e4c8c"/>
<path d="M474.08,218.07 V222.07 M473.28,218.07 H474.88 M473.28,222.07 H474.88" stroke="#000" stroke-width="0.8" fill="none"/>
<circle cx="474.08" cy="220.07" r="1.35" fill="#0e4c8c"/>
<circle cx="489.29" cy="222.16" r="1.35" fill="#0e4c8c"/>
<path d="M398.03,171.57 L399.19,171.61 L400.34,171.66 L401.50,171.71 L402.65,171.78 L403.81,171.85 L404.96,171.93 L406.12,172.03 L407.27,172.13 L408.43,172.25 L409.58,172.39 L410.74,172.55 L411.89,172.72 L413.05,172.93 L414.20,173.15 L415.36,173.41 L416.51,173.71 L417.67,174.04 L418.82,174.41 L419.98,174.83 L421.13,175.29 L422.29,175.82 L423.44,176.41 L424.60,177.06 L425.75,177.79 L426.91,178.59 L428.06,179.48 L429.22,180.45 L430.38,181.51 L431.53,182.66 L432.69,183.90 L433.84,185.24 L435.00,186.67 L436.15,188.17 L437.31,189.76 L438.46,191.42 L439.62,193.13 L440.77,194.88 L441.93,196.67 L443.08,198.47 L444.24,200.27 L445.39,202.06 L446.55,203.81 L447.70,205.52 L448.86,207.16 L450.01,208.74 L451.17,210.24 L452.32,211.65 L453.48,212.98 L454.63,214.21 L455.79,215.35 L456.94,216.40 L458.10,217.36 L459.26,218.24 L460.41,219.03 L461.57,219.75 L462.72,220.39 L463.88,220.97 L465.03,221.49 L466.19,221.95 L467.34,222.37 L468.50,222.73 L469.65,223.06 L470.81,223.35 L471.96,223.60 L473.12,223.83 L474.27,224.02 L475.43,224.10 L476.58,224.10 L477.74,224.10 L478.89,224.10 L480.05,224.10 L481.20,224.10 L482.36,224.10 L483.51,224.10 L484.67,224.10 L485.82,224.10 L486.98,224.10 L488.13,224.10 L489.29,224.10" fill="none" stroke="#d0112b" stroke-width="1.25" stroke-linejoin="round"/>
<path d="M398.03,169.00 V173.00 M397.23,169.00 H398.83 M397.23,173.00 H398.83" stroke="#000" stroke-width="0.8" fill="none"/>
<circle cx="398.03" cy="171.00" r="1.35" fill="#d0112b"/>
<path d="M413.24,171.14 V175.14 M412.44,171.14 H414.04 M412.44,175.14 H414.04" stroke="#000" stroke-width="0.8" fill="none"/>
<circle cx="413.24" cy="173.14" r="1.35" fill="#d0112b"/>
<path d="M428.45,178.61 V182.61 M427.65,178.61 H429.25 M427.65,182.61 H429.25" stroke="#000" stroke-width="0.8" fill="none"/>
<circle cx="428.45" cy="180.61" r="1.35" fill="#d0112b"/>
<path d="M443.66,196.50 V200.50 M442.86,196.50 H444.46 M442.86,200.50 H444.46" stroke="#000" stroke-width="0.8" fill="none"/>
<circle cx="443.66" cy="198.50" r="1.35" fill="#d0112b"/>
<path d="M458.87,216.79 V220.79 M458.07,216.79 H459.67 M458.07,220.79 H459.67" stroke="#000" stroke-width="0.8" fill="none"/>
<circle cx="458.87" cy="218.79" r="1.35" fill="#d0112b"/>
<circle cx="474.08" cy="224.10" r="1.35" fill="#d0112b"/>
<circle cx="489.29" cy="224.10" r="1.35" fill="#d0112b"/>
<line x1="472.60" y1="164.30" x2="482.60" y2="164.30" stroke="#d0112b" stroke-width="1.3" />
<circle cx="477.60" cy="164.30" r="1.35" fill="#d0112b"/>
<line x1="472.60" y1="172.50" x2="482.60" y2="172.50" stroke="#0e4c8c" stroke-width="1.3" />
<circle cx="477.60" cy="172.50" r="1.35" fill="#0e4c8c"/>
<text x="484.50" y="166.60" font-size="7.5" textLength="22.48" lengthAdjust="spacingAndGlyphs">Control</text>
<text x="484.50" y="174.80" font-size="7.5" textLength="27.13" lengthAdjust="spacingAndGlyphs">sg<tspan font-style="italic">SIRT1</tspan></text>
<text x="7.40" y="284.20" font-size="10.50" font-weight="bold" fill="#000" class="b" >F</text>
<line x1="40.80" y1="283.80" x2="40.80" y2="347.90" stroke="#000" stroke-width="1.2" />
<line x1="40.20" y1="347.30" x2="136.50" y2="347.30" stroke="#000" stroke-width="1.2" />
<line x1="37.60" y1="294.30" x2="40.80" y2="294.30" stroke="#000" stroke-width="1.0" />
<text x="34.80" y="297.00" font-size="7.80" text-anchor="end" textLength="12.75" lengthAdjust="spacingAndGlyphs" >100</text>
<line x1="37.60" y1="319.70" x2="40.80" y2="319.70" stroke="#000" stroke-width="1.0" />
<text x="34.80" y="322.40" font-size="7.80" text-anchor="end" textLength="8.50" lengthAdjust="spacingAndGlyphs" >50</text>
<line x1="37.60" y1="345.10" x2="40.80" y2="345.10" stroke="#000" stroke-width="1.0" />
<text x="34.80" y="347.80" font-size="7.80" text-anchor="end" textLength="4.25" lengthAdjust="spacingAndGlyphs" >0</text>
<line x1="46.50" y1="347.30" x2="46.50" y2="350.50" stroke="#000" stroke-width="1.0" />
<text x="46.50" y="358.90" font-size="7.80" text-anchor="middle" textLength="10.00" lengthAdjust="spacingAndGlyphs" >0.0</text>
<line x1="71.50" y1="347.30" x2="71.50" y2="350.50" stroke="#000" stroke-width="1.0" />
<text x="71.50" y="358.90" font-size="7.80" text-anchor="middle" textLength="10.00" lengthAdjust="spacingAndGlyphs" >0.5</text>
<line x1="96.50" y1="347.30" x2="96.50" y2="350.50" stroke="#000" stroke-width="1.0" />
<text x="96.50" y="358.90" font-size="7.80" text-anchor="middle" textLength="10.00" lengthAdjust="spacingAndGlyphs" >1.0</text>
<line x1="121.50" y1="347.30" x2="121.50" y2="350.50" stroke="#000" stroke-width="1.0" />
<text x="121.50" y="358.90" font-size="7.80" text-anchor="middle" textLength="10.00" lengthAdjust="spacingAndGlyphs" >1.5</text>
<text x="56.50" y="371.70" font-size="9.20" textLength="63.40" lengthAdjust="spacingAndGlyphs" class="c" >Log panobinostat (nM)</text>
<text class="c" x="14.70" y="315.85" font-size="8.0" text-anchor="middle" textLength="35.4" lengthAdjust="spacingAndGlyphs" transform="rotate(-90 14.70 315.85)">Viability (%)</text>
<path d="M41.50,297.00 L42.64,297.05 L43.78,297.11 L44.92,297.17 L46.06,297.24 L47.20,297.31 L48.34,297.39 L49.47,297.48 L50.61,297.58 L51.75,297.69 L52.89,297.81 L54.03,297.94 L55.17,298.08 L56.31,298.24 L57.45,298.41 L58.59,298.60 L59.73,298.81 L60.87,299.04 L62.01,299.28 L63.15,299.56 L64.28,299.85 L65.42,300.18 L66.56,300.53 L67.70,300.92 L68.84,301.33 L69.98,301.78 L71.12,302.27 L72.26,302.80 L73.40,303.37 L74.54,303.99 L75.68,304.64 L76.82,305.35 L77.96,306.10 L79.09,306.90 L80.23,307.75 L81.37,308.65 L82.51,309.60 L83.65,310.59 L84.79,311.63 L85.93,312.72 L87.07,313.84 L88.21,315.01 L89.35,316.20 L90.49,317.42 L91.63,318.67 L92.77,319.94 L93.91,321.21 L95.04,322.49 L96.18,323.77 L97.32,325.04 L98.46,326.30 L99.60,327.54 L100.74,328.75 L101.88,329.93 L103.02,331.08 L104.16,332.19 L105.30,333.26 L106.44,334.28 L107.58,335.26 L108.72,336.19 L109.85,337.07 L110.99,337.90 L112.13,338.68 L113.27,339.42 L114.41,340.10 L115.55,340.74 L116.69,341.34 L117.83,341.89 L118.97,342.41 L120.11,342.88 L121.25,343.32 L122.39,343.72 L123.53,344.10 L124.66,344.44 L125.80,344.75 L126.94,345.04 L128.08,345.30 L129.22,345.54 L130.36,345.76 L131.50,345.96" fill="none" stroke="#0e4c8c" stroke-width="1.25" stroke-linejoin="round"/>
<path d="M41.50,294.59 V298.59 M40.70,294.59 H42.30 M40.70,298.59 H42.30" stroke="#000" stroke-width="0.8" fill="none"/>
<polygon points="39.50,298.09 43.50,298.09 41.50,294.49" fill="#0e4c8c"/>
<path d="M56.50,295.70 V299.70 M55.70,295.70 H57.30 M55.70,299.70 H57.30" stroke="#000" stroke-width="0.8" fill="none"/>
<polygon points="54.50,299.20 58.50,299.20 56.50,295.60" fill="#0e4c8c"/>
<path d="M71.50,302.00 V306.00 M70.70,302.00 H72.30 M70.70,306.00 H72.30" stroke="#000" stroke-width="0.8" fill="none"/>
<polygon points="69.50,305.50 73.50,305.50 71.50,301.90" fill="#0e4c8c"/>
<path d="M86.50,310.89 V314.89 M85.70,310.89 H87.30 M85.70,314.89 H87.30" stroke="#000" stroke-width="0.8" fill="none"/>
<polygon points="84.50,314.39 88.50,314.39 86.50,310.79" fill="#0e4c8c"/>
<path d="M101.50,326.39 V330.39 M100.70,326.39 H102.30 M100.70,330.39 H102.30" stroke="#000" stroke-width="0.8" fill="none"/>
<polygon points="99.50,329.89 103.50,329.89 101.50,326.29" fill="#0e4c8c"/>
<polygon points="114.50,345.08 118.50,345.08 116.50,341.48" fill="#0e4c8c"/>
<polygon points="129.50,346.09 133.50,346.09 131.50,342.49" fill="#0e4c8c"/>
<path d="M41.50,294.84 L42.64,294.85 L43.78,294.86 L44.92,294.87 L46.06,294.88 L47.20,294.89 L48.34,294.91 L49.47,294.93 L50.61,294.95 L51.75,294.98 L52.89,295.01 L54.03,295.04 L55.17,295.09 L56.31,295.13 L57.45,295.19 L58.59,295.26 L59.73,295.34 L60.87,295.43 L62.01,295.53 L63.15,295.66 L64.28,295.80 L65.42,295.97 L66.56,296.17 L67.70,296.40 L68.84,296.67 L69.98,296.98 L71.12,297.33 L72.26,297.75 L73.40,298.22 L74.54,298.77 L75.68,299.39 L76.82,300.11 L77.96,300.92 L79.09,301.83 L80.23,302.86 L81.37,304.02 L82.51,305.29 L83.65,306.70 L84.79,308.23 L85.93,309.89 L87.07,311.67 L88.21,313.56 L89.35,315.54 L90.49,317.58 L91.63,319.68 L92.77,321.79 L93.91,323.90 L95.04,325.98 L96.18,328.00 L97.32,329.95 L98.46,331.80 L99.60,333.53 L100.74,335.15 L101.88,336.64 L103.02,338.00 L104.16,339.23 L105.30,340.33 L106.44,341.32 L107.58,342.20 L108.72,342.97 L109.85,343.65 L110.99,344.25 L112.13,344.77 L113.27,345.22 L114.41,345.61 L115.55,345.95 L116.69,346.24 L117.83,346.49 L118.97,346.71 L120.11,346.90 L121.25,347.00 L122.39,347.00 L123.53,347.00 L124.66,347.00 L125.80,347.00 L126.94,347.00 L128.08,347.00 L129.22,347.00 L130.36,347.00 L131.50,347.00" fill="none" stroke="#d0112b" stroke-width="1.25" stroke-linejoin="round"/>
<path d="M41.50,292.30 V296.30 M40.70,292.30 H42.30 M40.70,296.30 H42.30" stroke="#000" stroke-width="0.8" fill="none"/>
<circle cx="41.50" cy="294.30" r="1.35" fill="#d0112b"/>
<path d="M56.50,292.91 V296.91 M55.70,292.91 H57.30 M55.70,296.91 H57.30" stroke="#000" stroke-width="0.8" fill="none"/>
<circle cx="56.50" cy="294.91" r="1.35" fill="#d0112b"/>
<path d="M71.50,296.52 V300.52 M70.70,296.52 H72.30 M70.70,300.52 H72.30" stroke="#000" stroke-width="0.8" fill="none"/>
<circle cx="71.50" cy="298.52" r="1.35" fill="#d0112b"/>
<path d="M86.50,308.40 V312.40 M85.70,308.40 H87.30 M85.70,312.40 H87.30" stroke="#000" stroke-width="0.8" fill="none"/>
<circle cx="86.50" cy="310.40" r="1.35" fill="#d0112b"/>
<path d="M101.50,334.21 V338.21 M100.70,334.21 H102.30 M100.70,338.21 H102.30" stroke="#000" stroke-width="0.8" fill="none"/>
<circle cx="101.50" cy="336.21" r="1.35" fill="#d0112b"/>
<circle cx="116.50" cy="346.88" r="1.35" fill="#d0112b"/>
<circle cx="131.50" cy="347.00" r="1.35" fill="#d0112b"/>
<line x1="114.20" y1="287.80" x2="124.20" y2="287.80" stroke="#d0112b" stroke-width="1.3" />
<circle cx="119.20" cy="287.80" r="1.35" fill="#d0112b"/>
<line x1="114.20" y1="296.40" x2="124.20" y2="296.40" stroke="#0e4c8c" stroke-width="1.3" />
<polygon points="117.20,297.90 121.20,297.90 119.20,294.30" fill="#0e4c8c"/>
<text x="126.10" y="290.10" font-size="7.5" textLength="22.48" lengthAdjust="spacingAndGlyphs">Control</text>
<text x="126.10" y="298.70" font-size="7.5" textLength="25.59" lengthAdjust="spacingAndGlyphs">sg<tspan font-style="italic">ACLY</tspan></text>
<text x="182.80" y="284.20" font-size="10.50" font-weight="bold" fill="#000" class="b" >G</text>
<line x1="215.50" y1="283.80" x2="215.50" y2="347.90" stroke="#000" stroke-width="1.2" />
<line x1="214.90" y1="347.30" x2="308.40" y2="347.30" stroke="#000" stroke-width="1.2" />
<line x1="212.30" y1="294.30" x2="215.50" y2="294.30" stroke="#000" stroke-width="1.0" />
<text x="209.50" y="297.00" font-size="7.80" text-anchor="end" textLength="12.75" lengthAdjust="spacingAndGlyphs" >100</text>
<line x1="212.30" y1="319.70" x2="215.50" y2="319.70" stroke="#000" stroke-width="1.0" />
<text x="209.50" y="322.40" font-size="7.80" text-anchor="end" textLength="8.50" lengthAdjust="spacingAndGlyphs" >50</text>
<line x1="212.30" y1="345.10" x2="215.50" y2="345.10" stroke="#000" stroke-width="1.0" />
<text x="209.50" y="347.80" font-size="7.80" text-anchor="end" textLength="4.25" lengthAdjust="spacingAndGlyphs" >0</text>
<line x1="220.40" y1="347.30" x2="220.40" y2="350.50" stroke="#000" stroke-width="1.0" />
<text x="220.40" y="358.90" font-size="7.80" text-anchor="middle" textLength="10.00" lengthAdjust="spacingAndGlyphs" >0.0</text>
<line x1="245.00" y1="347.30" x2="245.00" y2="350.50" stroke="#000" stroke-width="1.0" />
<text x="245.00" y="358.90" font-size="7.80" text-anchor="middle" textLength="10.00" lengthAdjust="spacingAndGlyphs" >0.5</text>
<line x1="269.60" y1="347.30" x2="269.60" y2="350.50" stroke="#000" stroke-width="1.0" />
<text x="269.60" y="358.90" font-size="7.80" text-anchor="middle" textLength="10.00" lengthAdjust="spacingAndGlyphs" >1.0</text>
<line x1="294.20" y1="347.30" x2="294.20" y2="350.50" stroke="#000" stroke-width="1.0" />
<text x="294.20" y="358.90" font-size="7.80" text-anchor="middle" textLength="10.00" lengthAdjust="spacingAndGlyphs" >1.5</text>
<text x="230.10" y="371.70" font-size="9.20" textLength="63.40" lengthAdjust="spacingAndGlyphs" class="c" >Log panobinostat (nM)</text>
<text class="c" x="189.40" y="315.85" font-size="8.0" text-anchor="middle" textLength="35.4" lengthAdjust="spacingAndGlyphs" transform="rotate(-90 189.40 315.85)">Viability (%)</text>
<path d="M215.48,294.19 L216.60,294.19 L217.72,294.20 L218.84,294.21 L219.96,294.22 L221.09,294.24 L222.21,294.25 L223.33,294.27 L224.45,294.29 L225.57,294.32 L226.69,294.35 L227.81,294.38 L228.93,294.42 L230.05,294.47 L231.17,294.52 L232.30,294.58 L233.42,294.66 L234.54,294.74 L235.66,294.84 L236.78,294.95 L237.90,295.09 L239.02,295.24 L240.14,295.42 L241.26,295.63 L242.38,295.87 L243.51,296.15 L244.63,296.47 L245.75,296.83 L246.87,297.26 L247.99,297.74 L249.11,298.30 L250.23,298.93 L251.35,299.64 L252.47,300.45 L253.59,301.36 L254.72,302.38 L255.84,303.51 L256.96,304.76 L258.08,306.13 L259.20,307.62 L260.32,309.23 L261.44,310.94 L262.56,312.76 L263.68,314.66 L264.80,316.63 L265.93,318.64 L267.05,320.67 L268.17,322.70 L269.29,324.71 L270.41,326.67 L271.53,328.55 L272.65,330.35 L273.77,332.05 L274.89,333.64 L276.01,335.11 L277.14,336.47 L278.26,337.70 L279.38,338.81 L280.50,339.81 L281.62,340.70 L282.74,341.49 L283.86,342.20 L284.98,342.81 L286.10,343.36 L287.22,343.83 L288.35,344.24 L289.47,344.60 L290.59,344.92 L291.71,345.19 L292.83,345.42 L293.95,345.63 L295.07,345.80 L296.19,345.95 L297.31,346.08 L298.43,346.19 L299.56,346.29 L300.68,346.37 L301.80,346.44 L302.92,346.50 L304.04,346.56" fill="none" stroke="#0e4c8c" stroke-width="1.25" stroke-linejoin="round"/>
<path d="M215.48,292.60 V296.00 M214.68,292.60 H216.28 M214.68,296.00 H216.28" stroke="#000" stroke-width="0.8" fill="none"/>
<circle cx="215.48" cy="294.30" r="1.35" fill="#0e4c8c"/>
<path d="M230.24,292.24 V295.64 M229.44,292.24 H231.04 M229.44,295.64 H231.04" stroke="#000" stroke-width="0.8" fill="none"/>
<circle cx="230.24" cy="293.94" r="1.35" fill="#0e4c8c"/>
<path d="M245.00,295.39 V298.79 M244.20,295.39 H245.80 M244.20,298.79 H245.80" stroke="#000" stroke-width="0.8" fill="none"/>
<circle cx="245.00" cy="297.09" r="1.35" fill="#0e4c8c"/>
<path d="M259.76,306.62 V310.02 M258.96,306.62 H260.56 M258.96,310.02 H260.56" stroke="#000" stroke-width="0.8" fill="none"/>
<circle cx="259.76" cy="308.32" r="1.35" fill="#0e4c8c"/>
<path d="M274.52,331.31 V334.71 M273.72,331.31 H275.32 M273.72,334.71 H275.32" stroke="#000" stroke-width="0.8" fill="none"/>
<circle cx="274.52" cy="333.01" r="1.35" fill="#0e4c8c"/>
<circle cx="289.28" cy="345.10" r="1.35" fill="#0e4c8c"/>
<circle cx="304.04" cy="346.12" r="1.35" fill="#0e4c8c"/>
<path d="M215.48,295.46 L216.60,295.47 L217.72,295.47 L218.84,295.48 L219.96,295.49 L221.09,295.50 L222.21,295.51 L223.33,295.53 L224.45,295.54 L225.57,295.56 L226.69,295.59 L227.81,295.62 L228.93,295.65 L230.05,295.69 L231.17,295.74 L232.30,295.79 L233.42,295.86 L234.54,295.94 L235.66,296.03 L236.78,296.14 L237.90,296.27 L239.02,296.42 L240.14,296.59 L241.26,296.80 L242.38,297.04 L243.51,297.32 L244.63,297.65 L245.75,298.04 L246.87,298.49 L247.99,299.01 L249.11,299.61 L250.23,300.31 L251.35,301.10 L252.47,302.01 L253.59,303.03 L254.72,304.19 L255.84,305.48 L256.96,306.92 L258.08,308.49 L259.20,310.21 L260.32,312.05 L261.44,314.01 L262.56,316.06 L263.68,318.19 L264.80,320.37 L265.93,322.56 L267.05,324.74 L268.17,326.87 L269.29,328.93 L270.41,330.90 L271.53,332.75 L272.65,334.48 L273.77,336.07 L274.89,337.51 L276.01,338.82 L277.14,339.99 L278.26,341.03 L279.38,341.94 L280.50,342.75 L281.62,343.45 L282.74,344.06 L283.86,344.59 L284.98,345.04 L286.10,345.43 L287.22,345.77 L288.35,346.06 L289.47,346.30 L290.59,346.51 L291.71,346.69 L292.83,346.84 L293.95,346.97 L295.07,347.00 L296.19,347.00 L297.31,347.00 L298.43,347.00 L299.56,347.00 L300.68,347.00 L301.80,347.00 L302.92,347.00 L304.04,347.00" fill="none" stroke="#d0112b" stroke-width="1.25" stroke-linejoin="round"/>
<path d="M215.48,292.60 V296.00 M214.68,292.60 H216.28 M214.68,296.00 H216.28" stroke="#000" stroke-width="0.8" fill="none"/>
<circle cx="215.48" cy="294.30" r="1.35" fill="#d0112b"/>
<path d="M230.24,294.63 V298.03 M229.44,294.63 H231.04 M229.44,298.03 H231.04" stroke="#000" stroke-width="0.8" fill="none"/>
<circle cx="230.24" cy="296.33" r="1.35" fill="#d0112b"/>
<path d="M245.00,296.82 V300.22 M244.20,296.82 H245.80 M244.20,300.22 H245.80" stroke="#000" stroke-width="0.8" fill="none"/>
<circle cx="245.00" cy="298.52" r="1.35" fill="#d0112b"/>
<path d="M259.76,309.11 V312.51 M258.96,309.11 H260.56 M258.96,312.51 H260.56" stroke="#000" stroke-width="0.8" fill="none"/>
<circle cx="259.76" cy="310.81" r="1.35" fill="#d0112b"/>
<path d="M274.52,335.48 V338.88 M273.72,335.48 H275.32 M273.72,338.88 H275.32" stroke="#000" stroke-width="0.8" fill="none"/>
<circle cx="274.52" cy="337.18" r="1.35" fill="#d0112b"/>
<circle cx="289.28" cy="346.62" r="1.35" fill="#d0112b"/>
<circle cx="304.04" cy="347.00" r="1.35" fill="#d0112b"/>
<line x1="285.30" y1="287.80" x2="295.30" y2="287.80" stroke="#d0112b" stroke-width="1.3" />
<circle cx="290.30" cy="287.80" r="1.35" fill="#d0112b"/>
<line x1="285.30" y1="296.00" x2="295.30" y2="296.00" stroke="#0e4c8c" stroke-width="1.3" />
<circle cx="290.30" cy="296.00" r="1.35" fill="#0e4c8c"/>
<text x="297.20" y="290.10" font-size="7.5" transform="translate(297.20,290.10) skewX(-4) translate(-297.20,-290.10)" textLength="22.48" lengthAdjust="spacingAndGlyphs">Control</text>
<text x="297.20" y="298.30" font-size="7.5" textLength="36.05" lengthAdjust="spacingAndGlyphs">sg<tspan font-style="italic">CREBBP</tspan></text>
<text x="364.20" y="284.20" font-size="10.50" font-weight="bold" fill="#000" class="b" >H</text>
<line x1="397.70" y1="283.80" x2="397.70" y2="347.90" stroke="#000" stroke-width="1.2" />
<line x1="397.10" y1="347.30" x2="493.50" y2="347.30" stroke="#000" stroke-width="1.2" />
<line x1="394.50" y1="294.30" x2="397.70" y2="294.30" stroke="#000" stroke-width="1.0" />
<text x="391.70" y="297.00" font-size="7.80" text-anchor="end" textLength="12.75" lengthAdjust="spacingAndGlyphs" >100</text>
<line x1="394.50" y1="319.70" x2="397.70" y2="319.70" stroke="#000" stroke-width="1.0" />
<text x="391.70" y="322.40" font-size="7.80" text-anchor="end" textLength="8.50" lengthAdjust="spacingAndGlyphs" >50</text>
<line x1="394.50" y1="345.10" x2="397.70" y2="345.10" stroke="#000" stroke-width="1.0" />
<text x="391.70" y="347.80" font-size="7.80" text-anchor="end" textLength="4.25" lengthAdjust="spacingAndGlyphs" >0</text>
<line x1="403.10" y1="347.30" x2="403.10" y2="350.50" stroke="#000" stroke-width="1.0" />
<text x="403.10" y="358.90" font-size="7.80" text-anchor="middle" textLength="10.00" lengthAdjust="spacingAndGlyphs" >0.0</text>
<line x1="428.45" y1="347.30" x2="428.45" y2="350.50" stroke="#000" stroke-width="1.0" />
<text x="428.45" y="358.90" font-size="7.80" text-anchor="middle" textLength="10.00" lengthAdjust="spacingAndGlyphs" >0.5</text>
<line x1="453.80" y1="347.30" x2="453.80" y2="350.50" stroke="#000" stroke-width="1.0" />
<text x="453.80" y="358.90" font-size="7.80" text-anchor="middle" textLength="10.00" lengthAdjust="spacingAndGlyphs" >1.0</text>
<line x1="479.15" y1="347.30" x2="479.15" y2="350.50" stroke="#000" stroke-width="1.0" />
<text x="479.15" y="358.90" font-size="7.80" text-anchor="middle" textLength="10.00" lengthAdjust="spacingAndGlyphs" >1.5</text>
<text x="414.20" y="371.70" font-size="9.20" textLength="63.40" lengthAdjust="spacingAndGlyphs" class="c" >Log panobinostat (nM)</text>
<text class="c" x="371.60" y="315.85" font-size="8.0" text-anchor="middle" textLength="35.4" lengthAdjust="spacingAndGlyphs" transform="rotate(-90 371.60 315.85)">Viability (%)</text>
<path d="M398.03,292.79 L399.19,292.79 L400.34,292.80 L401.50,292.81 L402.65,292.82 L403.81,292.83 L404.96,292.84 L406.12,292.86 L407.27,292.88 L408.43,292.90 L409.58,292.93 L410.74,292.96 L411.89,293.00 L413.05,293.04 L414.20,293.09 L415.36,293.15 L416.51,293.23 L417.67,293.31 L418.82,293.41 L419.98,293.52 L421.13,293.66 L422.29,293.82 L423.44,294.01 L424.60,294.23 L425.75,294.48 L426.91,294.78 L428.06,295.13 L429.22,295.53 L430.38,296.00 L431.53,296.54 L432.69,297.17 L433.84,297.88 L435.00,298.70 L436.15,299.62 L437.31,300.67 L438.46,301.84 L439.62,303.15 L440.77,304.59 L441.93,306.17 L443.08,307.87 L444.24,309.70 L445.39,311.64 L446.55,313.67 L447.70,315.76 L448.86,317.89 L450.01,320.04 L451.17,322.16 L452.32,324.24 L453.48,326.25 L454.63,328.16 L455.79,329.97 L456.94,331.64 L458.10,333.19 L459.26,334.60 L460.41,335.87 L461.57,337.02 L462.72,338.03 L463.88,338.93 L465.03,339.73 L466.19,340.42 L467.34,341.02 L468.50,341.54 L469.65,342.00 L470.81,342.39 L471.96,342.72 L473.12,343.01 L474.27,343.26 L475.43,343.47 L476.58,343.65 L477.74,343.80 L478.89,343.93 L480.05,344.04 L481.20,344.14 L482.36,344.22 L483.51,344.29 L484.67,344.35 L485.82,344.40 L486.98,344.44 L488.13,344.48 L489.29,344.51" fill="none" stroke="#0e4c8c" stroke-width="1.25" stroke-linejoin="round"/>
<path d="M398.03,290.78 V294.78 M397.23,290.78 H398.83 M397.23,294.78 H398.83" stroke="#000" stroke-width="0.8" fill="none"/>
<polygon points="396.03,291.28 400.03,291.28 398.03,294.88" fill="#0e4c8c"/>
<path d="M413.24,290.78 V294.78 M412.44,290.78 H414.04 M412.44,294.78 H414.04" stroke="#000" stroke-width="0.8" fill="none"/>
<polygon points="411.24,291.28 415.24,291.28 413.24,294.88" fill="#0e4c8c"/>
<path d="M428.45,293.62 V297.62 M427.65,293.62 H429.25 M427.65,297.62 H429.25" stroke="#000" stroke-width="0.8" fill="none"/>
<polygon points="426.45,294.12 430.45,294.12 428.45,297.72" fill="#0e4c8c"/>
<path d="M443.66,306.68 V310.68 M442.86,306.68 H444.46 M442.86,310.68 H444.46" stroke="#000" stroke-width="0.8" fill="none"/>
<polygon points="441.66,307.18 445.66,307.18 443.66,310.78" fill="#0e4c8c"/>
<path d="M458.87,332.13 V336.13 M458.07,332.13 H459.67 M458.07,336.13 H459.67" stroke="#000" stroke-width="0.8" fill="none"/>
<polygon points="456.87,332.63 460.87,332.63 458.87,336.23" fill="#0e4c8c"/>
<polygon points="472.08,342.08 476.08,342.08 474.08,345.68" fill="#0e4c8c"/>
<polygon points="487.29,342.69 491.29,342.69 489.29,346.29" fill="#0e4c8c"/>
<path d="M398.03,295.56 L399.19,295.57 L400.34,295.58 L401.50,295.59 L402.65,295.60 L403.81,295.61 L404.96,295.63 L406.12,295.65 L407.27,295.67 L408.43,295.69 L409.58,295.72 L410.74,295.76 L411.89,295.80 L413.05,295.85 L414.20,295.91 L415.36,295.97 L416.51,296.05 L417.67,296.14 L418.82,296.25 L419.98,296.38 L421.13,296.53 L422.29,296.70 L423.44,296.90 L424.60,297.14 L425.75,297.41 L426.91,297.73 L428.06,298.10 L429.22,298.53 L430.38,299.02 L431.53,299.60 L432.69,300.25 L433.84,301.00 L435.00,301.85 L436.15,302.81 L437.31,303.89 L438.46,305.09 L439.62,306.43 L440.77,307.90 L441.93,309.50 L443.08,311.22 L444.24,313.06 L445.39,315.00 L446.55,317.02 L447.70,319.09 L448.86,321.20 L450.01,323.31 L451.17,325.40 L452.32,327.43 L453.48,329.40 L454.63,331.26 L455.79,333.02 L456.94,334.66 L458.10,336.16 L459.26,337.54 L460.41,338.78 L461.57,339.89 L462.72,340.89 L463.88,341.77 L465.03,342.54 L466.19,343.22 L467.34,343.81 L468.50,344.33 L469.65,344.78 L470.81,345.16 L471.96,345.50 L473.12,345.78 L474.27,346.03 L475.43,346.24 L476.58,346.42 L477.74,346.58 L478.89,346.71 L480.05,346.82 L481.20,346.92 L482.36,347.00 L483.51,347.00 L484.67,347.00 L485.82,347.00 L486.98,347.00 L488.13,347.00 L489.29,347.00" fill="none" stroke="#d0112b" stroke-width="1.25" stroke-linejoin="round"/>
<path d="M398.03,292.91 V296.91 M397.23,292.91 H398.83 M397.23,296.91 H398.83" stroke="#000" stroke-width="0.8" fill="none"/>
<circle cx="398.03" cy="294.91" r="1.35" fill="#d0112b"/>
<path d="M413.24,294.33 V298.33 M412.44,294.33 H414.04 M412.44,298.33 H414.04" stroke="#000" stroke-width="0.8" fill="none"/>
<circle cx="413.24" cy="296.33" r="1.35" fill="#d0112b"/>
<path d="M428.45,296.52 V300.52 M427.65,296.52 H429.25 M427.65,300.52 H429.25" stroke="#000" stroke-width="0.8" fill="none"/>
<circle cx="428.45" cy="298.52" r="1.35" fill="#d0112b"/>
<path d="M443.66,309.98 V313.98 M442.86,309.98 H444.46 M442.86,313.98 H444.46" stroke="#000" stroke-width="0.8" fill="none"/>
<circle cx="443.66" cy="311.98" r="1.35" fill="#d0112b"/>
<path d="M458.87,335.18 V339.18 M458.07,335.18 H459.67 M458.07,339.18 H459.67" stroke="#000" stroke-width="0.8" fill="none"/>
<circle cx="458.87" cy="337.18" r="1.35" fill="#d0112b"/>
<circle cx="474.08" cy="346.12" r="1.35" fill="#d0112b"/>
<circle cx="489.29" cy="347.00" r="1.35" fill="#d0112b"/>
<line x1="471.30" y1="287.80" x2="481.30" y2="287.80" stroke="#d0112b" stroke-width="1.3" />
<circle cx="476.30" cy="287.80" r="1.35" fill="#d0112b"/>
<line x1="471.30" y1="296.40" x2="481.30" y2="296.40" stroke="#0e4c8c" stroke-width="1.3" />
<polygon points="474.30,294.90 478.30,294.90 476.30,298.50" fill="#0e4c8c"/>
<text x="483.20" y="290.10" font-size="7.5" textLength="22.48" lengthAdjust="spacingAndGlyphs">Control</text>
<text x="483.20" y="298.70" font-size="7.5" textLength="24.81" lengthAdjust="spacingAndGlyphs">sg<tspan font-style="italic">KAT7</tspan></text>
</svg>
</body></html>
